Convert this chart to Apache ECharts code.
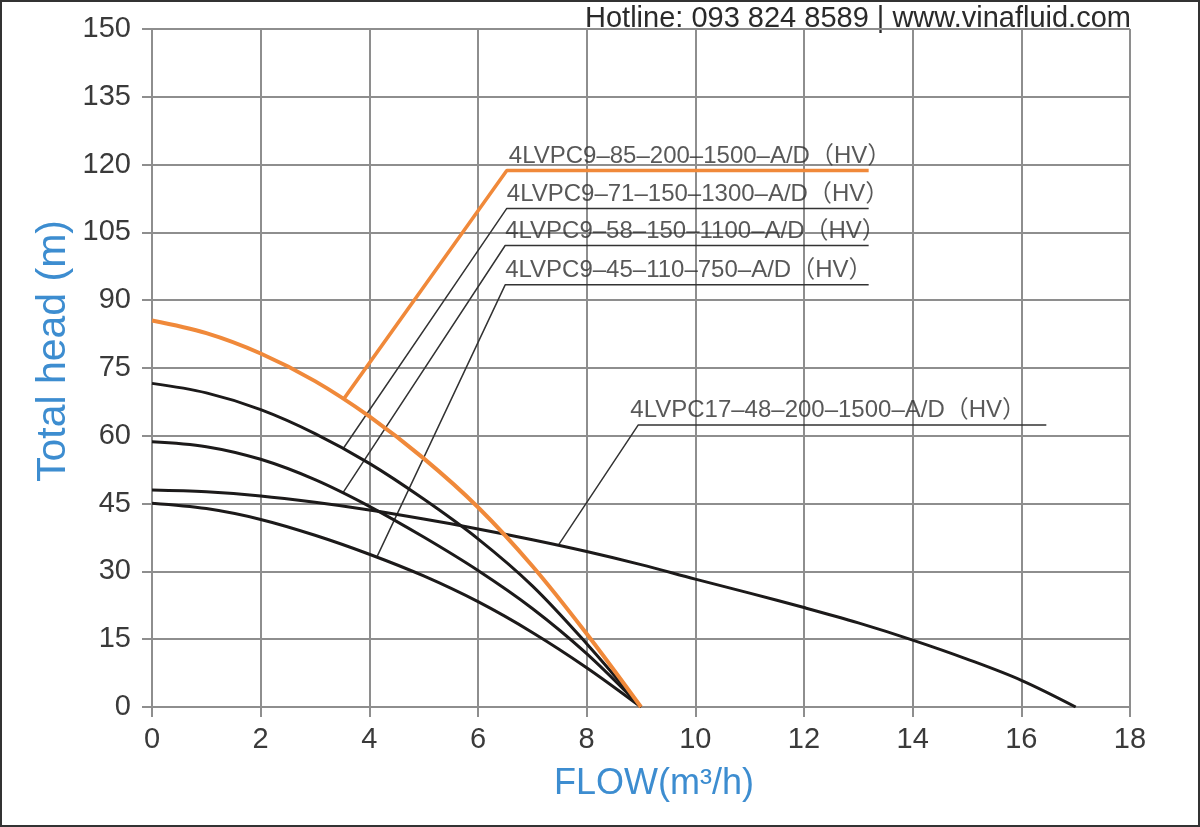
<!DOCTYPE html>
<html>
<head>
<meta charset="utf-8">
<script src="https://cdn.jsdelivr.net/npm/echarts@6/dist/echarts.min.js"></script>
<style>
html,body{margin:0;padding:0;background:#fff;}
#frame{position:relative;width:1200px;height:827px;box-sizing:border-box;border:2px solid #333;}
#chart{position:absolute;left:-2px;top:-2px;width:1200px;height:827px;}
</style>
</head>
<body>
<div id="frame"><div id="chart"></div></div>
<script>
// ---- data ----
const xTicks = [0, 2, 4, 6, 8, 10, 12, 14, 16, 18];
const yTicks = [0, 15, 30, 45, 60, 75, 90, 105, 120, 135, 150];
const flow9 = [0, 1, 2, 3, 4, 5, 6, 7, 8, 9];
const head85 = [85.5, 82.7, 78.2, 72.1, 64.3, 55.0, 44.2, 31.2, 16.2, 0];
const head71 = [71.6, 69.5, 65.8, 60.5, 53.9, 46.0, 37.2, 26.8, 14.0, 0];
const head58 = [58.7, 57.6, 54.8, 50.3, 44.4, 37.6, 30.2, 21.8, 11.8, 0];
const head45 = [45.1, 43.9, 41.5, 38.0, 33.8, 29.0, 23.3, 16.5, 8.7, 0];
const flow17 = [0, 1, 2, 3, 4, 5, 6, 7, 8, 9, 10, 11, 12, 13, 14, 15, 16, 17];
const head48 = [48, 47.6, 46.7, 45.3, 43.6, 41.6, 39.4, 37.0, 34.4, 31.5, 28.3, 25.2, 22.0, 18.6, 14.8, 10.6, 5.9, 0];

const modelNames = [
  '4LVPC9–85–200–1500–A/D（HV）',
  '4LVPC9–71–150–1300–A/D（HV）',
  '4LVPC9–58–150–1100–A/D（HV）',
  '4LVPC9–45–110–750–A/D（HV）',
  '4LVPC17–48–200–1500–A/D（HV）'
];
// leader lines: [point on curve, elbow, end of underline]
const leader85 = [[3.52, 68.0], [6.53, 118.7], [13.19, 118.7]];
const leader71 = [[3.52, 57.2], [6.53, 110.3], [13.19, 110.3]];
const leader58 = [[3.51, 47.3], [6.5, 102.1], [13.19, 102.1]];
const leader45 = [[4.14, 33.2], [6.5, 93.4], [13.19, 93.4]];
const leader17 = [[7.48, 35.8], [8.95, 62.4], [16.46, 62.4]];

const hotline = 'Hotline: 093 824 8589 | www.vinafluid.com';
const xTitle = 'FLOW(m³/h)';
const yTitle = 'Total head (m)';

// ---- chart ----
const gridColor = '#8e8e8e';
const blue = '#3d8dd0';
const black = '#1c1a1a';
const orange = '#f0893a';
const font = '"Liberation Sans", Arial, "Noto Sans CJK SC", sans-serif';

function curve(xs, ys) { return xs.map((x, i) => [x, ys[i]]); }

function curveSeries(name, xs, ys, color, width, z) {
  return {
    name: name, type: 'line', data: curve(xs, ys), smooth: 0.35,
    showSymbol: false, symbol: 'none', z: z,
    lineStyle: { color: color, width: width }, silent: true
  };
}

function leaderSeries(pts, color, width, z) {
  return {
    type: 'line', data: pts, showSymbol: false, symbol: 'none', z: z,
    lineStyle: { color: color, width: width }, silent: true
  };
}

const leaders = [leader85, leader71, leader58, leader45, leader17];
const labelOffsets = [2, 0, 0, 0, -8];
const labelSeries = {
  type: 'scatter', symbolSize: 1, z: 7, silent: true,
  itemStyle: { color: 'rgba(0,0,0,0)' },
  data: leaders.map((pts, i) => ({
    value: pts[1],
    label: {
      show: true, formatter: modelNames[i], position: 'top', align: 'left', distance: 2,
      offset: [labelOffsets[i], 0], color: '#2e2e2e', fontSize: 24, fontFamily: font
    }
  }))
};

const chart = echarts.init(document.getElementById('chart'), null, { renderer: 'canvas' });
chart.setOption({
  animation: false,
  backgroundColor: 'transparent',
  grid: { left: 152, right: 70, top: 29, bottom: 120 },
  xAxis: {
    type: 'value', min: xTicks[0], max: xTicks[xTicks.length - 1], interval: 2,
    axisLine: { show: true, lineStyle: { color: gridColor, width: 2 } },
    axisTick: { show: true, length: 10, lineStyle: { color: gridColor, width: 2 } },
    splitLine: { show: true, lineStyle: { color: gridColor, width: 2 } },
    axisLabel: { color: '#3a3a3a', fontSize: 29, fontFamily: font, margin: 18 }
  },
  yAxis: {
    type: 'value', min: yTicks[0], max: yTicks[yTicks.length - 1], interval: 15,
    axisLine: { show: true, lineStyle: { color: gridColor, width: 2 } },
    axisTick: { show: true, length: 10, lineStyle: { color: gridColor, width: 2 } },
    splitLine: { show: true, lineStyle: { color: gridColor, width: 2 } },
    axisLabel: { color: '#3a3a3a', fontSize: 29, fontFamily: font, margin: 21 }
  },
  graphic: [
    { type: 'text', left: 585, top: 4, style: { text: hotline, fill: '#2a2a2a', font: '29px ' + font } },
    { type: 'text', x: 654, y: 784, style: { text: xTitle, fill: blue, font: '36px ' + font, textAlign: 'center', textVerticalAlign: 'middle' } },
    { type: 'text', x: 54, y: 351, rotation: Math.PI / 2, style: { text: yTitle, fill: blue, font: '41px ' + font, textAlign: 'center', textVerticalAlign: 'middle' } }
  ],
  series: [
    curveSeries(modelNames[4], flow17, head48, black, 3, 5),
    curveSeries(modelNames[3], flow9, head45, black, 3, 5),
    curveSeries(modelNames[2], flow9, head58, black, 3, 5),
    curveSeries(modelNames[1], flow9, head71, black, 3, 5),
    curveSeries(modelNames[0], flow9, head85, orange, 4, 6),
    leaderSeries(leader71, '#333', 1.5, 4),
    leaderSeries(leader58, '#333', 1.5, 4),
    leaderSeries(leader45, '#333', 1.5, 4),
    leaderSeries(leader17, '#333', 1.5, 4),
    leaderSeries(leader85, orange, 3.5, 6),
    labelSeries
  ]
});
</script>
</body>
</html>
